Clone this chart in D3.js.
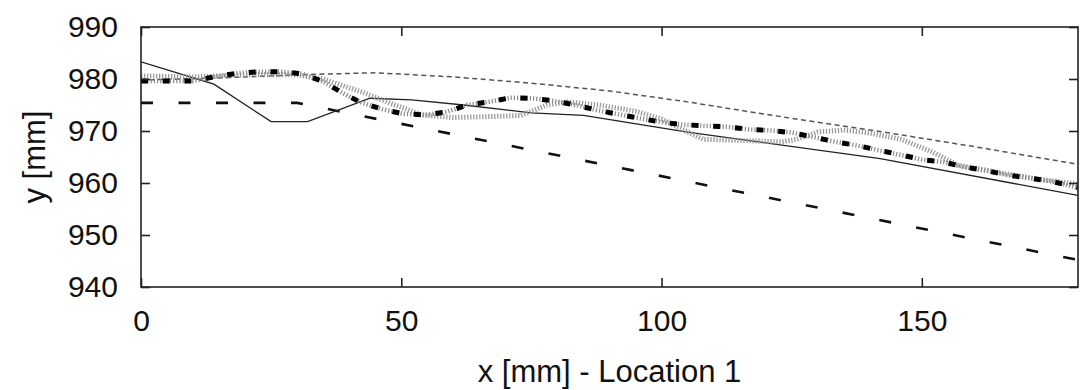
<!DOCTYPE html>
<html>
<head>
<meta charset="utf-8">
<script src="https://cdn.jsdelivr.net/npm/d3@7"></script>
<style>
  html, body { margin: 0; padding: 0; background: #fff; }
  svg { display: block; }
  text { font-family: "Liberation Sans", Arial, sans-serif; fill: #111; }
</style>
</head>
<body>
<svg id="chart" width="1080" height="390"></svg>
<script>
// ---- data ----
const xTicks = [0, 50, 100, 150];
const yTicks = [940, 950, 960, 970, 980, 990];
const xLabel = "x [mm] - Location 1";
const yLabel = "y [mm]";

const solidX = [0, 14, 25, 32, 44, 52, 62, 75, 85, 105, 142, 180];
const solidY = [983.3, 979, 971.8, 971.8, 976.3, 976, 975, 973.5, 973, 969.8, 964.7, 957.6];

const longDashX = [0, 30, 180];
const longDashY = [975.4, 975.4, 945.2];

const fineDashX = [0, 15, 30, 45, 60, 75, 90, 105, 120, 142, 160, 180];
const fineDashY = [979.8, 980.2, 980.8, 981.2, 980.4, 979.2, 977.7, 975.6, 973.2, 969.9, 967, 963.6];

const boldX = [0, 10, 14, 18.4, 22.5, 27, 31, 35, 38.6, 42, 46.3, 50.4, 54.6, 58.8, 62.6, 66.8, 71, 75, 79.3, 83.5, 87.6, 91.8, 96, 100, 104.3, 108.5, 112.6, 116.8, 121, 125, 129.3, 133.5, 137.6, 141.7, 146, 150, 154.3, 158, 162.3, 166.5, 171, 175, 180];
const boldY = [979.6, 979.6, 980.4, 981.1, 981.4, 981.4, 981, 979.5, 977.4, 975.6, 974.2, 973.3, 973.1, 973.7, 975, 975.6, 976.4, 976.3, 975.8, 975, 974, 973.2, 972.4, 971.7, 971.2, 971, 970.8, 970.3, 970.1, 969.7, 968.8, 967.9, 967.2, 966.3, 965.4, 964.5, 964, 963.1, 962.4, 961.5, 960.9, 960.3, 959.1];

const greyX = [0, 10, 20, 30, 35, 43, 48, 54, 60, 68, 73, 78, 82, 88, 95, 100, 104, 108, 115, 123, 126, 130, 135, 140, 146, 152, 157, 165, 172, 180];
const greyY = [980.6, 980.4, 980.8, 980.8, 980, 977.3, 975.3, 973.1, 972.6, 972.8, 973, 975, 975.6, 975, 973.8, 972.3, 970.3, 968.4, 968.2, 967.9, 968.4, 969.8, 970.2, 969.6, 968.4, 966, 963.4, 962, 960.8, 959.8];

// ---- layout ----
const L = 141, R = 1078, T = 27, B = 287;
const svg = d3.select("#chart");
const x = d3.scaleLinear().domain([0, 180]).range([L, R]);
const y = d3.scaleLinear().domain([940, 990]).range([B, T]);

const plot = svg.append("g");
const clip = svg.append("clipPath").attr("id", "clip")
  .append("rect").attr("x", L).attr("y", T).attr("width", R - L).attr("height", B - T);

const line = d3.line().x(d => x(d[0])).y(d => y(d[1]));
const zip = (a, b) => a.map((v, i) => [v, b[i]]);

const lines = plot.append("g").attr("clip-path", "url(#clip)");

// long dashed
lines.append("path").attr("d", line(zip(longDashX, longDashY)))
  .attr("fill", "none").attr("stroke", "#111").attr("stroke-width", 2.6)
  .attr("stroke-dasharray", "12,25.5");

// fine dashed
lines.append("path").attr("d", line(zip(fineDashX, fineDashY)))
  .attr("fill", "none").attr("stroke", "#555").attr("stroke-width", 1.5)
  .attr("stroke-dasharray", "5,3.5");

// solid
lines.append("path").attr("d", line(zip(solidX, solidY)))
  .attr("fill", "none").attr("stroke", "#222").attr("stroke-width", 1.3);

// grey dotted thick
lines.append("path").attr("d", line(zip(greyX, greyY)))
  .attr("fill", "none").attr("stroke", "#9a9a9a").attr("stroke-width", 5)
  .attr("stroke-dasharray", "1.3,1.7");

// bold dash-dot: grey hatch + black blocks
const boldD = line(zip(boldX, boldY));
lines.append("path").attr("d", boldD)
  .attr("fill", "none").attr("stroke", "#8a8a8a").attr("stroke-width", 4.5)
  .attr("stroke-dasharray", "1.2,2");
lines.append("path").attr("d", boldD)
  .attr("fill", "none").attr("stroke", "#000").attr("stroke-width", 5)
  .attr("stroke-dasharray", "7,14.7");

// ---- frame & ticks ----
const tickLen = 9;
const axes = svg.append("g");
axes.append("rect").attr("x", L).attr("y", T).attr("width", R - L).attr("height", B - T)
  .attr("fill", "none").attr("stroke", "#222").attr("stroke-width", 1.6);

const xAxisB = d3.axisBottom(x).tickValues(xTicks).tickSize(-tickLen).tickPadding(tickLen + 14).tickFormat(d3.format("d"));
const xAxisT = d3.axisTop(x).tickValues(xTicks).tickSize(-tickLen).tickFormat("");
const yAxisL = d3.axisLeft(y).tickValues(yTicks).tickSize(-tickLen).tickPadding(tickLen + 14).tickFormat(d3.format("d"));
const yAxisR = d3.axisRight(y).tickValues(yTicks).tickSize(-tickLen).tickFormat("");

function style(g) {
  g.select(".domain").remove();
  g.selectAll(".tick line").attr("stroke", "#222").attr("stroke-width", 1.6);
  g.selectAll(".tick text").attr("font-size", 30).attr("fill", "#111")
    .attr("font-family", "Liberation Sans, Arial, sans-serif");
}
axes.append("g").attr("transform", `translate(0,${B})`).call(xAxisB).call(style)
  .selectAll(".tick text").attr("dy", "0.71em");
axes.append("g").attr("transform", `translate(0,${T})`).call(xAxisT).call(style);
axes.append("g").attr("transform", `translate(${L},0)`).call(yAxisL).call(style)
  .selectAll(".tick text").attr("dy", "0.33em");
axes.append("g").attr("transform", `translate(${R},0)`).call(yAxisR).call(style);

// ---- axis titles ----
svg.append("text").attr("x", (L + R) / 2).attr("y", 382)
  .attr("text-anchor", "middle").attr("font-size", 31).text(xLabel);
svg.append("text").attr("transform", `translate(45,${(T + B) / 2}) rotate(-90)`)
  .attr("text-anchor", "middle").attr("font-size", 31).text(yLabel);
</script>
</body>
</html>
